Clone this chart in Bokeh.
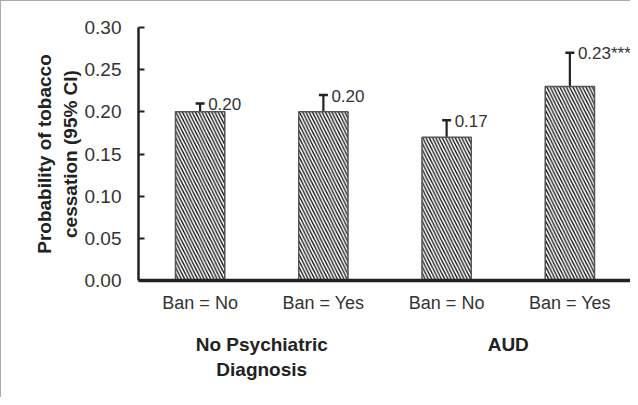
from bokeh.plotting import figure
from bokeh.models import (FactorRange, ColumnDataSource, Whisker, FixedTicker, TeeHead,
                          LabelSet, PrintfTickFormatter, CategoricalAxis)
from bokeh.core.properties import value
from bokeh.embed import file_html
from bokeh.resources import INLINE

groups = ["No Psychiatric\nDiagnosis", "No Psychiatric\nDiagnosis", "AUD", "AUD"]
bans = ["Ban = No", "Ban = Yes", "Ban = No", "Ban = Yes"]
probs = [0.20, 0.20, 0.17, 0.23]
lower = [0.19, 0.18, 0.15, 0.20]
upper = [0.21, 0.22, 0.19, 0.27]
labels = ["0.20", "0.20", "0.17", "0.23***"]
y_ticks = [0.0, 0.05, 0.10, 0.15, 0.20, 0.25, 0.30]

x = list(zip(groups, bans))
src = ColumnDataSource(dict(x=x, top=probs, lower=lower, upper=upper, labels=labels))

FONT = "Liberation Sans"
p = figure(width=630, height=397,
           x_range=FactorRange(*x, group_padding=0, factor_padding=0, range_padding=0),
           y_range=(0, 0.30), output_backend="svg", toolbar_location=None,
           min_border_left=137, min_border_right=0, min_border_top=26, min_border_bottom=118)
p.styles = {"border-left": "1px solid #aaaaaa", "border-top": "1px solid #aaaaaa"}
p.outline_line_color = None
p.grid.visible = False

p.vbar(x="x", top="top", width=0.4, source=src, fill_color="white",
       line_color="#555555", line_width=1.5,
       hatch_pattern="\\", hatch_color="#111111", hatch_scale=6.5, hatch_weight=1.3)

head = dict(size=9, line_color="#222222", line_width=2.5)
w = Whisker(base="x", lower="lower", upper="upper", source=src,
            line_color="#222222", line_width=2.2,
            upper_head=TeeHead(**head), lower_head=TeeHead(**head))
p.add_layout(w)

ls = LabelSet(x="x", y="upper", text="labels", source=src, x_offset=8, y_offset=-1,
              text_baseline="middle", text_align="left", text_font=value(FONT),
              text_font_size="17px", text_color="#333333")
p.add_layout(ls)

yax = p.yaxis[0]
yax.ticker = FixedTicker(ticks=y_ticks)
yax.formatter = PrintfTickFormatter(format="%.2f")
yax.axis_line_color = "#222222"
yax.axis_line_width = 2.5
yax.major_tick_in = 6
yax.major_tick_out = 0
yax.minor_tick_line_color = None
yax.major_tick_line_color = "#222222"
yax.major_tick_line_width = 2
yax.major_label_text_font = FONT
yax.major_label_text_font_size = "19px"
yax.major_label_text_color = "#333333"
yax.major_label_standoff = 17
yax.axis_label = "Probability of tobacco\ncessation (95% CI)"
yax.axis_label_text_font = FONT
yax.axis_label_text_font_size = "19px"
yax.axis_label_text_font_style = "bold"
yax.axis_label_text_color = "#222222"
yax.axis_label_standoff = 1

xax = p.xaxis[0]
xax.axis_line_color = "#222222"
xax.axis_line_width = 3.5
xax.major_tick_line_color = None
xax.minor_tick_line_color = None
xax.major_label_text_font = FONT
xax.major_label_text_font_size = "18px"
xax.major_label_text_color = "#333333"
xax.major_label_standoff = 6
xax.group_text_font_size = "1px"
xax.group_text_color = None
xax.separator_line_color = None

gax = CategoricalAxis()
gax.axis_line_color = None
gax.major_tick_line_color = None
gax.minor_tick_line_color = None
gax.major_label_text_font_size = "1px"
gax.major_label_text_color = None
gax.major_label_standoff = 12
gax.group_text_font = FONT
gax.group_text_font_size = "19px"
gax.group_text_font_style = "bold"
gax.group_text_color = "#222222"
gax.separator_line_color = None
p.add_layout(gax, "below")

open("out.html", "w").write(file_html(p, INLINE))
